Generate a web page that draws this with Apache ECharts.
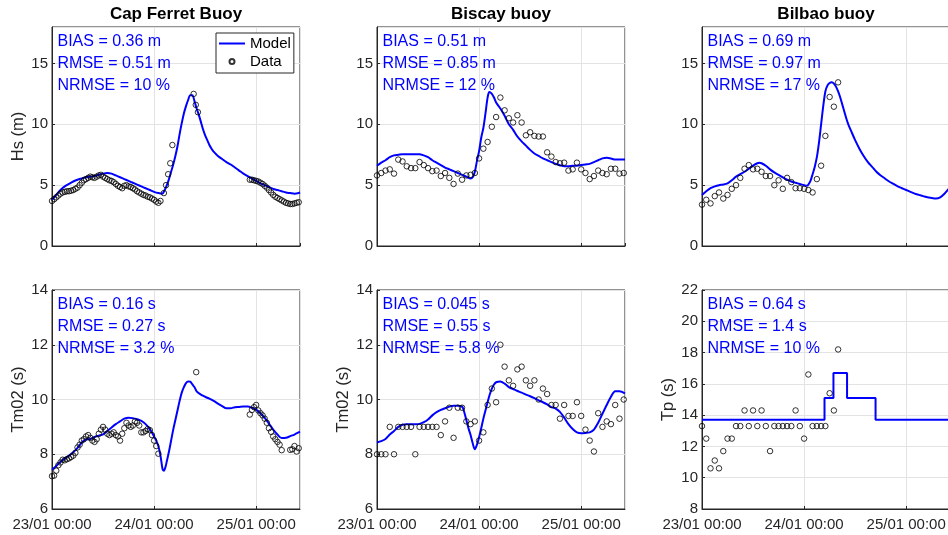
<!DOCTYPE html>
<html>
<head>
<meta charset="utf-8">
<title>Buoy validation</title>
<script src="https://cdn.jsdelivr.net/npm/echarts@6/dist/echarts.min.js"></script>
<style>
  html, body { margin: 0; padding: 0; background: #fff; }
  #main { width: 948px; height: 535px; }
</style>
</head>
<body>
<div id="main"></div>
<script>
// time in hours since 23/01 00:00
var xTickLabels = ['23/01 00:00', '24/01 00:00', '25/01 00:00'];
var xMax = 58.3;

// Cap Ferret - Hs
var capHsModel = [[0,3.8],[1,4.2],[2,4.6],[3,4.9],[4,5.1],[5,5.3],[6,5.45],[7,5.55],[8,5.65],[9,5.7],[10,5.75],[11,5.85],[12,5.95],[13,6.0],[14,5.95],[15,5.8],[16,5.65],[17,5.5],[18,5.35],[19,5.2],[20,5.05],[21,4.9],[22,4.75],[23,4.6],[24,4.45],[25,4.35],[25.9,4.3],[26.5,4.6],[27,5.0],[27.5,5.5],[28,6.1],[28.5,6.7],[29,7.4],[29.5,8.2],[30,9.2],[30.5,10.1],[31,10.9],[31.5,11.5],[32,12.0],[32.5,12.4],[33,12.4],[33.5,11.9],[34,11.3],[34.5,10.8],[35,10.2],[35.5,9.6],[36,9.1],[36.5,8.7],[37,8.3],[37.5,8.0],[38,7.75],[39,7.4],[40,7.15],[41,6.9],[42,6.7],[43,6.45],[44,6.2],[45,5.95],[46,5.75],[47,5.55],[48,5.35],[49,5.15],[50,5.0],[51,4.85],[52,4.7],[53,4.6],[54,4.5],[55,4.4],[56,4.35],[57,4.3],[58,4.35],[58.3,4.4]];
var capHsObs = [[0,3.7],[0.5,3.85],[1,4.0],[1.5,4.15],[2,4.3],[2.5,4.4],[3,4.45],[3.5,4.5],[4,4.5],[4.5,4.55],[5,4.6],[5.5,4.7],[6,4.8],[6.5,5.0],[7,5.2],[7.5,5.4],[8,5.5],[8.5,5.6],[9,5.7],[9.5,5.65],[10,5.6],[10.5,5.7],[11,5.8],[11.5,5.85],[12,5.7],[12.5,5.6],[13,5.5],[13.5,5.4],[14,5.35],[14.5,5.25],[15,5.1],[15.5,4.95],[16,4.85],[16.5,4.75],[17,4.95],[17.5,5.0],[18,4.9],[18.5,4.85],[19,4.75],[19.5,4.65],[20,4.5],[20.5,4.4],[21,4.3],[21.5,4.2],[22,4.15],[22.5,4.05],[23,4.0],[23.5,3.9],[24,3.8],[24.5,3.65],[25,3.55],[25.5,3.7],
  [26.3,4.35],[26.8,5.0],[27.3,5.9],[27.8,6.8],[28.3,8.3],[33.3,12.5],[33.8,11.6],[34.3,11.0],
  [46.5,5.45],[47,5.45],[47.5,5.4],[48,5.35],[48.5,5.3],[49,5.2],[49.5,5.1],[50,4.95],[50.5,4.8],[51,4.6],[51.5,4.4],[52,4.2],[52.5,4.05],[53,3.95],[53.5,3.85],[54,3.75],[54.5,3.65],[55,3.55],[55.5,3.5],[56,3.45],[56.5,3.45],[57,3.5],[57.5,3.55],[58,3.6]];

// Biscay - Hs
var bisHsModel = [[0,6.6],[1,6.85],[2,7.05],[3,7.3],[4,7.45],[5,7.5],[6,7.55],[7,7.55],[8,7.55],[9,7.55],[10,7.55],[11,7.45],[12,7.3],[13,7.05],[14,6.85],[15,6.65],[16,6.45],[17,6.3],[18,6.15],[19,6.0],[20,5.85],[21,5.7],[22,5.55],[22.5,5.65],[23,6.1],[23.5,7.0],[24,7.8],[24.5,8.9],[25,9.7],[25.5,10.9],[26,12.2],[26.4,12.65],[27,12.5],[27.5,12.2],[28,11.8],[29,11.3],[30,10.7],[31,10.0],[32,9.55],[33,9.0],[34,8.6],[35,8.25],[36,7.9],[37,7.6],[38,7.4],[39,7.2],[40,7.05],[41,6.9],[42,6.75],[43,6.65],[44,6.55],[45,6.55],[46,6.6],[47,6.6],[48,6.65],[49,6.7],[50,6.75],[51,6.9],[52,7.05],[53,7.2],[54,7.25],[55,7.2],[56,7.1],[57,7.1],[58.3,7.1]];
var bisHsObs = [5.8,6.0,6.2,6.3,5.95,7.1,6.95,6.55,6.4,6.4,6.9,6.65,6.4,6.15,6.2,5.75,6.0,5.6,5.1,5.95,5.45,5.8,5.85,6.0,7.2,8.0,8.55,9.8,10.6,12.2,11.15,10.5,10.15,10.75,10.15,9.1,9.35,9.05,9.0,9.0,7.7,7.35,6.9,6.8,6.85,6.2,6.3,6.85,6.3,6.0,5.5,5.75,6.2,6.0,5.9,6.35,6.35,5.95,6.0];

// Bilbao - Hs
var bilHsModel = [[0,4.2],[1,4.5],[2,4.75],[3,4.9],[4,5.0],[5,5.05],[6,5.15],[7,5.4],[8,5.7],[9,5.9],[10,6.1],[11,6.35],[12,6.6],[13,6.8],[13.5,6.85],[14,6.8],[15,6.6],[16,6.3],[17,6.05],[18,5.85],[19,5.65],[20,5.45],[21,5.3],[22,5.2],[23,5.1],[24,5.0],[24.6,4.95],[25,5.05],[25.5,5.35],[26,5.9],[26.5,6.5],[27,7.3],[27.5,8.5],[28,10.0],[28.5,11.5],[29,12.7],[29.5,13.2],[30,13.4],[30.5,13.45],[31,13.35],[31.5,13.1],[32,12.7],[32.5,12.2],[33,11.6],[33.5,11.0],[34,10.4],[34.5,9.9],[35,9.5],[36,8.7],[37,8.0],[38,7.4],[39,6.9],[40,6.5],[41,6.1],[42,5.8],[43,5.55],[44,5.3],[45,5.1],[46,4.9],[47,4.75],[48,4.6],[49,4.45],[50,4.3],[51,4.2],[52,4.1],[53,4.0],[54,3.95],[55,3.9],[56,4.0],[57,4.3],[58,4.7],[58.3,4.85]];
var bilHsObs = [3.4,3.8,3.5,4.1,4.4,3.9,4.2,4.7,5.0,5.6,6.35,6.65,6.3,6.35,6.1,5.75,5.75,5.0,5.4,4.7,5.6,5.25,4.75,4.75,4.7,4.6,4.4,5.5,6.6,9.05,12.25,11.45,13.45];

// Cap Ferret - Tm02
var capTmModel = [[0,7.43],[1,7.57],[2,7.73],[3,7.84],[4,7.95],[5,8.07],[6,8.23],[7,8.43],[8,8.54],[9,8.56],[10,8.63],[11,8.68],[12,8.73],[13,8.85],[14,8.98],[15,9.1],[16,9.2],[17,9.3],[18,9.33],[19,9.32],[20,9.28],[21,9.22],[22,9.1],[23,8.92],[24,8.65],[24.5,8.5],[25,8.3],[25.5,7.95],[26,7.45],[26.3,7.4],[26.7,7.55],[27,7.75],[27.5,8.1],[28,8.5],[28.5,8.9],[29,9.25],[29.5,9.6],[30,9.95],[30.5,10.25],[31,10.45],[31.5,10.6],[32,10.66],[32.5,10.65],[33,10.55],[33.5,10.45],[34,10.3],[35,10.18],[36,10.1],[37,10.03],[38,9.95],[39,9.85],[40,9.76],[41,9.68],[42,9.68],[43,9.72],[44,9.73],[45,9.74],[46,9.74],[47,9.7],[48,9.63],[49,9.5],[50,9.33],[51,9.12],[52,8.9],[53,8.72],[54,8.59],[55,8.6],[56,8.66],[57,8.72],[58,8.8],[58.3,8.82]];
var capTmObs = [[0,7.2],[0.5,7.22],[1,7.4],[1.5,7.6],[2,7.7],[2.5,7.8],[3,7.78],[3.5,7.82],[4,7.85],[4.5,7.9],[5,7.95],[5.5,8.05],[6,8.25],[6.5,8.35],[7,8.5],[7.5,8.55],[8,8.65],[8.5,8.7],[9,8.6],[9.5,8.5],[10,8.45],[10.5,8.55],[11,8.75],[11.5,8.9],[12,9.0],[12.5,8.9],[13,8.75],[13.5,8.7],[14,8.75],[14.5,8.8],[15,8.7],[15.5,8.65],[16,8.5],[16.5,8.75],[17,8.95],[17.5,9.15],[18,9.05],[18.5,9.0],[19,9.05],[19.5,9.2],[20,9.15],[20.5,9.05],[21,8.8],[21.5,8.8],[22,8.85],[22.5,8.92],[23,8.88],[23.5,8.7],[24,8.5],[24.5,8.3],[25,8.02],
  [33.9,11.0],
  [46.5,9.45],[47,9.62],[47.5,9.72],[48,9.8],[48.5,9.6],[49,9.5],[49.5,9.42],[50,9.3],[50.5,9.15],[51,8.95],[51.5,8.82],[52,8.65],[52.5,8.55],[53,8.45],[53.5,8.35],[54,8.15],[56,8.16],[56.5,8.18],[57,8.3],[57.5,8.1],[58,8.22]];

// Biscay - Tm02
var bisTmModel = [[0,8.43],[1,8.48],[2,8.56],[3,8.72],[4,8.85],[5,9.0],[6,9.08],[7,9.1],[8,9.1],[9,9.1],[10,9.11],[11,9.17],[12,9.27],[13,9.42],[14,9.54],[15,9.62],[16,9.68],[17,9.74],[18,9.77],[19,9.77],[20,9.74],[20.4,9.6],[21,9.25],[21.5,8.95],[22,8.7],[22.5,8.4],[23,8.18],[23.5,8.35],[24,8.62],[24.5,8.95],[25,9.3],[25.5,9.6],[26,9.9],[26.5,10.18],[27,10.4],[27.5,10.55],[28,10.63],[29,10.66],[30,10.58],[31,10.45],[32,10.38],[33,10.31],[34,10.25],[35,10.18],[36,10.12],[37,10.05],[38,9.97],[39,9.9],[40,9.82],[41,9.72],[42,9.67],[43,9.55],[44,9.34],[45,9.1],[46,8.92],[47,8.8],[48,8.77],[49,8.78],[50,8.8],[51,8.9],[52,9.15],[53,9.48],[54,9.8],[55,10.1],[56,10.3],[57,10.3],[58.3,10.22]];
var bisTmObs = [8.0,8.0,8.0,9.0,8.0,9.0,9.0,9.0,9.0,8.0,9.0,9.0,9.0,9.0,9.0,8.7,9.2,9.7,8.6,9.7,9.7,9.2,9.1,9.2,8.5,8.8,9.8,10.4,9.9,12.0,11.2,10.7,10.5,11.1,11.2,10.7,10.5,10.7,10.0,10.4,10.2,9.8,9.8,9.3,9.8,9.4,9.4,9.9,9.4,8.9,8.5,8.1,9.5,9.0,9.2,9.1,9.8,9.3,10.0];

// Bilbao - Tp (model is a stepped series)
var bilTpModel = [[0,13.7],[28.8,15.1],[30.9,16.7],[34.1,15.1],[40.8,13.7],[58.3,13.7]];
var bilTpObs = [13.3,12.5,10.6,11.1,10.6,11.7,12.5,12.5,13.3,13.3,14.3,13.3,14.3,13.3,14.3,13.3,11.7,13.3,13.3,13.3,13.3,13.3,14.3,13.3,12.5,16.6,13.3,13.3,13.3,13.3,15.4,14.3,18.2];

var stats = [
  ['BIAS = 0.36 m', 'RMSE = 0.51 m', 'NRMSE = 10 %'],
  ['BIAS = 0.51 m', 'RMSE = 0.85 m', 'NRMSE = 12 %'],
  ['BIAS = 0.69 m', 'RMSE = 0.97 m', 'NRMSE = 17 %'],
  ['BIAS = 0.16 s', 'RMSE = 0.27 s', 'NRMSE = 3.2 %'],
  ['BIAS = 0.045 s', 'RMSE = 0.55 s', 'NRMSE = 5.8 %'],
  ['BIAS = 0.64 s', 'RMSE = 1.4 s', 'NRMSE = 10 %']
];

function hourly(vals) {
  return vals.map(function (v, i) { return [i, v]; });
}

var FONT = '"Liberation Sans", Arial, Helvetica, sans-serif';
var AX = '#262626';
var GRIDC = '#e3e3e3';
var W = 248, H = 219;

var panels = [
  {left: 52,  top: 27,  title: 'Cap Ferret Buoy', yName: 'Hs (m)', yMin: 0, yMax: 18, yInt: 5, model: capHsModel, obs: capHsObs},
  {left: 377, top: 27,  title: 'Biscay buoy', yName: '', yMin: 0, yMax: 18, yInt: 5, model: bisHsModel, obs: hourly(bisHsObs)},
  {left: 702, top: 27,  title: 'Bilbao buoy', yName: '', yMin: 0, yMax: 18, yInt: 5, model: bilHsModel, obs: hourly(bilHsObs)},
  {left: 52,  top: 290, yName: 'Tm02 (s)', yMin: 6, yMax: 14, yInt: 2, model: capTmModel, obs: capTmObs, xLabels: true},
  {left: 377, top: 290, yName: 'Tm02 (s)', yMin: 6, yMax: 14, yInt: 2, model: bisTmModel, obs: hourly(bisTmObs), xLabels: true},
  {left: 702, top: 290, yName: 'Tp (s)', yMin: 8, yMax: 22, yInt: 2, model: bilTpModel, obs: hourly(bilTpObs), xLabels: true, step: true}
];

var grids = [], xAxes = [], yAxes = [], series = [], graphics = [];

panels.forEach(function (p, i) {
  grids.push({
    left: p.left, top: p.top, width: W, height: H,
    show: true, borderColor: AX, borderWidth: 1, backgroundColor: '#fff',
    outerBoundsMode: 'none'
  });
  xAxes.push({
    type: 'value', gridIndex: i, min: 0, max: xMax, interval: 24,
    axisLine: {onZero: false, lineStyle: {color: AX, width: 1}},
    axisTick: {inside: true, length: 3, lineStyle: {color: AX}},
    splitLine: {show: true, lineStyle: {color: GRIDC, width: 1}},
    axisLabel: {
      show: !!p.xLabels, showMaxLabel: false, margin: 8,
      color: AX, fontSize: 15, fontFamily: FONT,
      formatter: function (v) { return xTickLabels[Math.round(v / 24)] || ''; }
    }
  });
  yAxes.push({
    type: 'value', gridIndex: i, min: p.yMin, max: p.yMax, interval: p.yInt,
    name: p.yName, nameLocation: 'middle', nameGap: 25,
    nameTextStyle: {color: AX, fontSize: 16.5, fontFamily: FONT},
    axisLine: {lineStyle: {color: AX, width: 1}},
    axisTick: {inside: true, length: 3, lineStyle: {color: AX}},
    splitLine: {show: true, lineStyle: {color: GRIDC, width: 1}},
    axisLabel: {
      showMaxLabel: (p.yMax - p.yMin) % p.yInt === 0, margin: 4,
      color: AX, fontSize: 15, fontFamily: FONT
    }
  });
  series.push({
    name: 'Model', type: 'line', xAxisIndex: i, yAxisIndex: i,
    data: p.model, symbol: 'none', smooth: p.step ? false : 0.3,
    step: p.step ? 'end' : false,
    lineStyle: {color: '#0000ff', width: 2}, itemStyle: {color: '#0000ff'},
    silent: true, z: 3
  });
  series.push({
    name: 'Data', type: 'scatter', xAxisIndex: i, yAxisIndex: i,
    data: p.obs, symbol: 'circle', symbolSize: 5.5,
    itemStyle: {color: 'rgba(0,0,0,0)', borderColor: '#000', borderWidth: 1},
    silent: true, z: 4
  });
  if (p.title) {
    graphics.push({
      type: 'text', x: p.left + W / 2, y: 14.5, z: 10,
      style: {text: p.title, fill: '#000', font: 'bold 17px ' + FONT, align: 'center', verticalAlign: 'middle'}
    });
  }
  stats[i].forEach(function (s, k) {
    graphics.push({
      type: 'text', x: p.left + 5.5, y: p.top + 14.8 + k * 21.7, z: 10,
      style: {text: s, fill: '#0000ff', font: '16px ' + FONT, align: 'left', verticalAlign: 'middle'}
    });
  });
});

var chart = echarts.init(document.getElementById('main'), null, {renderer: 'canvas'});
chart.setOption({
  animation: false,
  backgroundColor: '#fff',
  grid: grids,
  xAxis: xAxes,
  yAxis: yAxes,
  series: series,
  graphic: graphics,
  legend: {
    data: [
      {name: 'Model', icon: 'path://M0,0H26V2H0Z'},
      {name: 'Data', icon: 'circle'}
    ],
    orient: 'vertical', left: 216, top: 33,
    padding: [3, 3, 4, 3], itemGap: 3, itemWidth: 26, itemHeight: 5,
    symbolKeepAspect: true,
    backgroundColor: '#fff', borderColor: AX, borderWidth: 1, borderRadius: 0,
    selectedMode: false,
    textStyle: {color: '#000', fontSize: 15, fontFamily: FONT}
  }
});
</script>
</body>
</html>
